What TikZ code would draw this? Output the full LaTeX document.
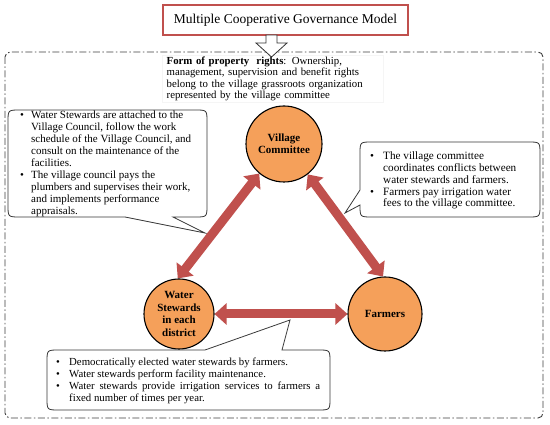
\documentclass[tikz,border=0pt]{standalone}
\usepackage{fontspec}
\setmainfont{Liberation Serif}
\usetikzlibrary{arrows.meta}
\definecolor{arrred}{HTML}{C0504D}
\definecolor{circfill}{HTML}{F5A05A}
\definecolor{calloutline}{HTML}{383838}
\newcommand\bul{\makebox[11pt][l]{\textbullet}}
\newcommand\ind{\hspace*{11pt}}
\newcommand\bulr{\makebox[13pt][l]{\textbullet}}
\newcommand\indr{\hspace*{13pt}}
\pgfdeclarelayer{bg}
\pgfsetlayers{bg,main}
\begin{document}
\begin{tikzpicture}[x=1pt,y=-1pt,
  circ/.style={circle, draw=black, line width=1.1pt, fill=circfill, inner sep=0pt, align=center, font=\fontsize{11}{12}\selectfont\bfseries},
  redarr/.style={draw=arrred, line width=9pt, {Triangle[width=21pt,length=12pt]}-{Triangle[width=21pt,length=12pt]}},
  callout/.style={draw=calloutline, line width=0.8pt, fill=white},
  calltext/.style={anchor=north west, inner sep=0pt, align=left, font=\fontsize{11}{12}\selectfont},
  frame/.style={draw=black!75, line width=0.9pt, dash pattern=on 7pt off 2.5pt on 1.5pt off 2.5pt, rounded corners=5pt},
  titlebox/.style={draw=arrred, line width=1.6pt, fill=white, inner sep=0pt, font=\fontsize{13.5}{16}\selectfont},
  propbox/.style={draw=black!4, fill=white, inner sep=0pt, align=left, font=\fontsize{10.8}{11.5}\selectfont},
  hollow/.style={draw=black!80, line width=0.8pt, fill=white},
]
\useasboundingbox (0,0) rectangle (550,425);

% circles (main layer, above arrows)
\node[circ, minimum size=76pt] (vc) at (284,144) {Village\\Committee};
\node[circ, minimum size=70pt, font=\fontsize{11}{12.5}\selectfont\bfseries] (ws) at (179,314) {Water\\Stewards\\in each\\district};
\node[circ, minimum size=74pt] (fa) at (385,314) {Farmers};

\begin{pgfonlayer}{bg}
\fill[white] (0,0) rectangle (550,425);
% outer dash-dot frame
\draw[frame] (5,52) rectangle (543,418);

% property rights box
\node[propbox, anchor=north west, minimum width=221pt, minimum height=47pt, text width=212pt] (prop) at (162,55)
  {\textbf{Form of property\ \ rights}: Ownership,\\
   management, supervision and benefit rights\\
   belong to the village grassroots organization\\
   represented by the village committee};

% left callout
\draw[callout] (125,217) -- (20,217) .. controls (8,217) .. (8,205) -- (8,122) .. controls (8,110) .. (20,110)
  -- (195,110) .. controls (207,110) .. (207,122) -- (207,205) .. controls (207,217) .. (195,217)
  -- (173,217) -- (205,233) -- cycle;
\node[calltext] (ltext) at (20,111)
  {\bul Water Stewards are attached to the\\
   \ind Village Council, follow the work\\
   \ind schedule of the Village Council, and\\
   \ind consult on the maintenance of the\\
   \ind facilities.\\
   \bul The village council pays the\\
   \ind plumbers and supervises their work,\\
   \ind and implements performance\\
   \ind appraisals.};

% right callout
\draw[callout] (360,190) -- (360,154) .. controls (360,142) .. (372,142) -- (528,142) .. controls (540,142) .. (540,154)
  -- (540,205) .. controls (540,217) .. (528,217) -- (372,217) .. controls (360,217) .. (360,205)
  -- (345,213) -- cycle;
\node[calltext, font=\fontsize{11.2}{11.7}\selectfont] (rtext) at (370,152)
  {\bulr The village committee\\
   \indr coordinates conflicts between\\
   \indr water stewards and farmers.\\
   \bulr Farmers pay irrigation water\\
   \indr fees to the village committee.};

% bottom callout
\draw[callout] (205,350) -- (59,350) .. controls (47,350) .. (47,362) -- (47,398) .. controls (47,410) .. (59,410)
  -- (318,410) .. controls (330,410) .. (330,398) -- (330,362) .. controls (330,350) .. (318,350)
  -- (282,350) -- (290,320) -- cycle;
\node[calltext, font=\fontsize{10.8}{11.8}\selectfont] (btext) at (56,358)
  {\bulr Democratically elected water stewards by farmers.\\
   \bulr Water stewards perform facility maintenance.\\
   \bulr \makebox[251pt][s]{Water stewards provide irrigation services to farmers a}\\
   \indr fixed number of times per year.};

% red double arrows
\draw[redarr] (ws.92) -- (vc.230);
\draw[redarr] (vc.308) -- (fa.93);
\draw[redarr] (ws.east) -- (fa.west);
\end{pgfonlayer}

% title
\node[titlebox, minimum width=245pt, minimum height=30pt] (title) at (285.5,20) {Multiple Cooperative Governance Model};

% hollow arrow from title to frame
\draw[hollow] (266,35) -- (277,35) -- (277,43) -- (287,43) -- (271.5,57) -- (256,43) -- (266,43) -- cycle;
\end{tikzpicture}
\end{document}
